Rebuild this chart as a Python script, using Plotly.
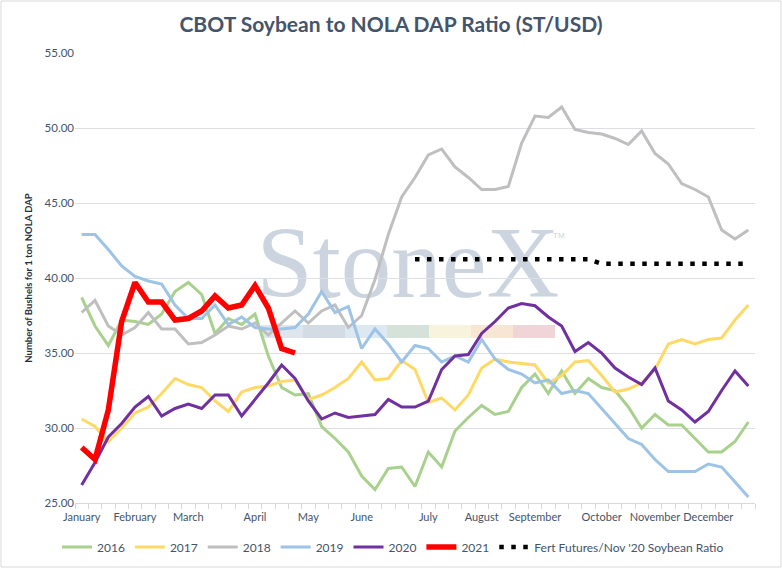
import plotly.graph_objects as go

# week index within the year (Excel category axis), month labels on first week of each month
weeks = list(range(51))
month_weeks = [0, 4, 8, 13, 17, 21, 26, 30, 34, 39, 43, 47]
month_names = ['January', 'February', 'March', 'April', 'May', 'June', 'July',
               'August', 'September', 'October', 'November', 'December']

ratio_2016 = [38.7, 36.8, 35.5, 37.2, 37.1, 36.9, 37.6, 39.1, 39.7, 38.9,
              36.3, 37.3, 36.9, 37.6, 34.8, 32.7, 32.2, 32.3, 30.1, 29.3,
              28.4, 26.8, 25.9, 27.3, 27.4, 26.1, 28.4, 27.4, 29.8, 30.7,
              31.5, 30.9, 31.1, 32.7, 33.6, 32.3, 33.8, 32.3, 33.3, 32.7,
              32.5, 31.4, 30.0, 30.9, 30.2, 30.2, 29.3, 28.4, 28.4, 29.1, 30.4]
ratio_2017 = [30.6, 30.1, 29.1, 30.0, 31.0, 31.4, 32.3, 33.3, 32.9, 32.7,
              31.8, 31.1, 32.4, 32.7, 32.8, 33.1, 33.2, 31.9, 32.2, 32.7,
              33.3, 34.4, 33.2, 33.3, 34.5, 33.9, 31.7, 32.0, 31.2, 32.2,
              34.0, 34.6, 34.4, 34.3, 34.2, 33.0, 33.5, 34.4, 34.5, 33.5,
              32.4, 32.6, 33.0, 33.9, 35.6, 35.9, 35.6, 35.9, 36.0, 37.2, 38.2]
ratio_2018 = [37.7, 38.5, 36.8, 36.2, 36.7, 37.7, 36.6, 36.6, 35.6, 35.7,
              36.2, 36.8, 36.6, 37.0, 36.2, 37.0, 37.8, 37.0, 37.8, 38.2,
              36.7, 37.5, 39.9, 42.9, 45.4, 46.7, 48.2, 48.6, 47.4, 46.7,
              45.9, 45.9, 46.1, 49.0, 50.8, 50.7, 51.4, 49.9, 49.7, 49.6,
              49.3, 48.9, 49.8, 48.3, 47.6, 46.3, 45.9, 45.4, 43.2, 42.6, 43.2]
ratio_2019 = [42.9, 42.9, 41.9, 40.8, 40.1, 39.8, 39.6, 38.2, 37.3, 37.3,
              38.2, 36.9, 37.4, 36.7, 36.6, 36.6, 36.7, 37.6, 39.1, 37.7,
              38.1, 35.3, 36.6, 35.6, 34.4, 35.5, 35.3, 34.4, 34.8, 34.4,
              35.9, 34.6, 33.9, 33.6, 33.0, 33.2, 32.3, 32.5, 32.3, 31.3,
              30.3, 29.3, 28.9, 27.9, 27.1, 27.1, 27.1, 27.6, 27.4, 26.4, 25.4]
ratio_2020 = [26.2, 27.7, 29.4, 30.3, 31.4, 32.1, 30.8, 31.3, 31.6, 31.3,
              32.2, 32.2, 30.8, 31.9, 33.0, 34.2, 33.3, 31.8, 30.6, 31.0,
              30.7, 30.8, 30.9, 31.9, 31.4, 31.4, 31.8, 33.9, 34.8, 34.9,
              36.3, 37.1, 38.0, 38.3, 38.15, 37.4, 36.8, 35.1, 35.7, 35.0,
              34.0, 33.4, 32.9, 34.0, 31.8, 31.2, 30.4, 31.1, 32.5, 33.8, 32.8]
ratio_2021 = [28.7, 27.9, 31.2, 37.1, 39.7, 38.4, 38.4, 37.2, 37.3, 37.8,
              38.8, 38.0, 38.2, 39.5, 38.0, 35.3, 35.0]
fert_weeks = list(range(25, 51))
fert_ratio = [41.25, 41.25, 41.25, 41.25, 41.25, 41.25, 41.25, 41.25, 41.25,
              41.25, 41.25, 41.25, 41.25, 41.25, 40.95, 40.95, 40.95, 40.95,
              40.95, 40.95, 40.95, 40.95, 40.95, 40.95, 40.95, 40.95]

W, H = 782, 568
L, R, T, B = 75, 27, 53, 65
TXT = '#44546a'
FONT = 'Lato'


def px_x(px):
    return (px - L) / (W - L - R)


def px_y(py):
    return (H - B - py) / (H - T - B)


fig = go.Figure()

series = [
    ('2016', ratio_2016, '#a9d18e', 3),
    ('2017', ratio_2017, '#ffd966', 3),
    ('2018', ratio_2018, '#bfbfbf', 3),
    ('2019', ratio_2019, '#9dc3e6', 3),
    ('2020', ratio_2020, '#7030a0', 3),
    ('2021', ratio_2021, '#ff0000', 5.5),
]
for name, vals, color, width in series:
    fig.add_trace(go.Scatter(
        x=weeks[:len(vals)], y=vals, mode='lines', name=name,
        line=dict(color=color, width=width)
    ))

fig.add_trace(go.Scatter(
    x=fert_weeks, y=fert_ratio, mode='lines',
    name="Fert Futures/Nov '20 Soybean Ratio",
    line=dict(color='black', width=4.5, dash='4.5px,7.5px')
))

# StoneX watermark + colour band (behind the data)
shapes = []
band_edges = [261, 303, 345, 387, 429, 471, 513, 555]
band_colors = ['#dfe5ec', '#d3dbe5', '#dce8f2', '#d4e2d9', '#f7f3dc', '#f8e6d4', '#f0d5d8']
for i, c in enumerate(band_colors):
    shapes.append(dict(
        type='rect', xref='paper', yref='paper', layer='below',
        x0=px_x(band_edges[i]), x1=px_x(band_edges[i + 1]),
        y0=px_y(338), y1=px_y(325), fillcolor=c, line=dict(width=0)
    ))
shapes.append(dict(
    type='rect', xref='paper', yref='paper', layer='below',
    x0=px_x(263), x1=px_x(553), y0=px_y(298), y1=px_y(206),
    fillcolor='rgba(0,0,0,0)', line=dict(width=0),
    label=dict(text='StoneX', textposition='middle center',
               font=dict(family='Liberation Serif', size=101, color='#ccd5df'))
))
# chart border
shapes.append(dict(
    type='rect', xref='paper', yref='paper', layer='above',
    x0=px_x(1), x1=px_x(781), y0=px_y(567), y1=px_y(1),
    line=dict(color='#d9d9d9', width=1)
))

fig.update_layout(
    width=W, height=H,
    margin=dict(l=L, r=R, t=T, b=B, autoexpand=False),
    paper_bgcolor='white', plot_bgcolor='white',
    font=dict(family=FONT, size=12, color=TXT),
    title=dict(
        text='<b>CBOT Soybean to NOLA DAP Ratio (ST/USD)</b>',
        x=0.5, xref='container', xanchor='center',
        y=1 - 25 / H, yref='container', yanchor='middle',
        font=dict(family=FONT, size=21, color=TXT)
    ),
    xaxis=dict(
        range=[-0.5, 50.5],
        tickmode='array', tickvals=month_weeks, ticktext=month_names,
        ticks='outside', ticklen=4, tickcolor='rgba(0,0,0,0)', tickangle=0,
        tickfont=dict(size=11, color=TXT),
        showgrid=False, zeroline=False,
        showline=True, linecolor='#d9d9d9', linewidth=1,
        minor=dict(tickmode='linear', tick0=0.5, dtick=1, ticks='outside',
                   ticklen=5, tickcolor='#d9d9d9', showgrid=False)
    ),
    yaxis=dict(
        range=[25, 55], dtick=5, tickformat='.2f',
        tickfont=dict(size=11.5, color=TXT),
        showgrid=True, gridcolor='#dcdfe4', gridwidth=1,
        zeroline=False, showline=False, ticks='',
        title=dict(text='<b>Number of Bushels for 1 ton NOLA DAP</b>',
                   font=dict(family=FONT, size=9.5, color='#262f3d'),
                   standoff=10)
    ),
    legend=dict(
        orientation='h', x=px_x(393), xanchor='center',
        y=px_y(547), yanchor='middle',
        font=dict(size=12, color=TXT), itemwidth=30,
        bgcolor='rgba(0,0,0,0)'
    ),
    shapes=shapes,
    annotations=[dict(
        text='TM', xref='paper', yref='paper', x=px_x(567), y=px_y(235),
        showarrow=False, font=dict(family='Liberation Sans', size=8, color='#ccd5df')
    )]
)

# drop the default 8px body margin so the figure sits at the window origin
fig.write_html('out.html', config={'displayModeBar': False},
               post_script="document.body.style.margin='0';")
